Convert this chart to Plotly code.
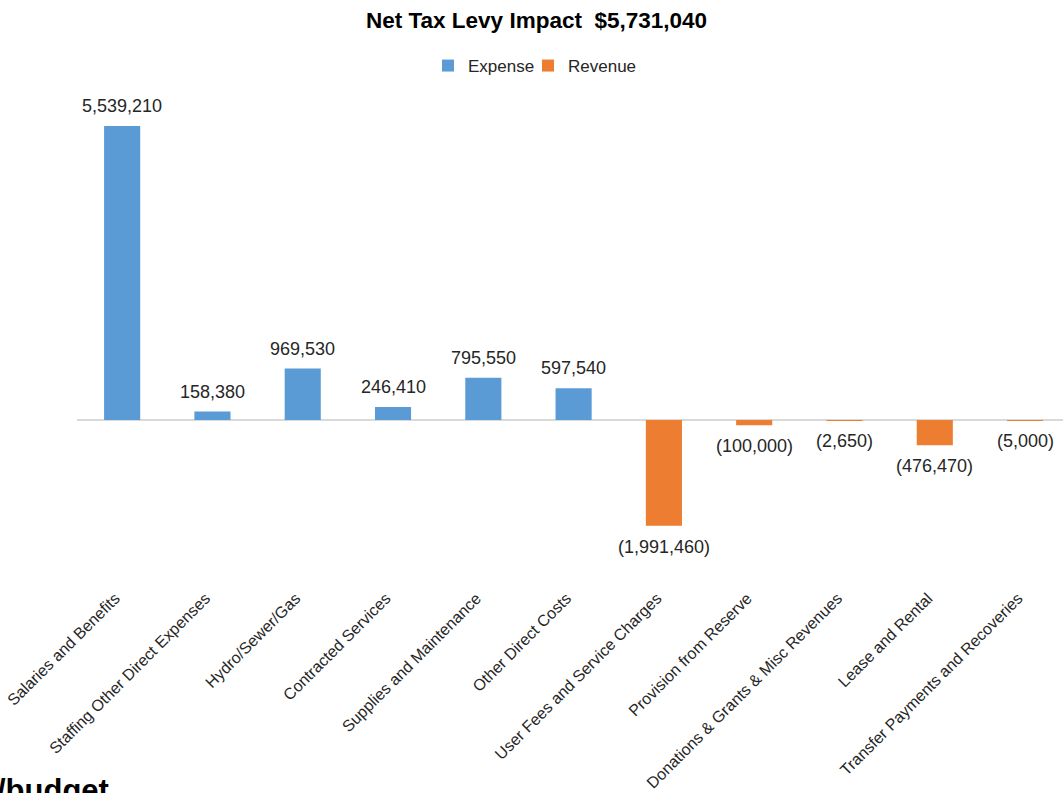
import plotly.graph_objects as go

categories = [
    "Salaries and Benefits",
    "Staffing Other Direct Expenses",
    "Hydro/Sewer/Gas",
    "Contracted Services",
    "Supplies and Maintenance",
    "Other Direct Costs",
    "User Fees and Service Charges",
    "Provision from Reserve",
    "Donations & Grants & Misc Revenues",
    "Lease and Rental",
    "Transfer Payments and Recoveries",
]
expense = [5539210, 158380, 969530, 246410, 795550, 597540, None, None, None, None, None]
revenue = [None, None, None, None, None, None, -1991460, -100000, -2650, -476470, -5000]
net_levy = "$5,731,040"


def fmt(v):
    return f"({abs(v):,})" if v < 0 else f"{v:,}"


OFF = 0  # page body margin removed via post_script
W, H = 1063 - OFF, 793 - OFF
plot_left, plot_right = 77 - OFF, 1063 - OFF
plot_top, plot_bottom = 100 - OFF, 582 - OFF
zero_px = 420 - OFF
px_per_unit = 53.08e-6
y_top = (zero_px - plot_top) / px_per_unit
y_bot = -(plot_bottom - zero_px) / px_per_unit
plot_w = plot_right - plot_left
plot_h = plot_bottom - plot_top

blue = "#5B9BD5"
orange = "#ED7D31"
FONT = "Liberation Sans, Arial, sans-serif"
TXT = "#262626"

fig = go.Figure()
fig.add_trace(go.Bar(x=categories, y=expense, name="Expense", marker_color=blue,
                     width=0.4, marker_line_width=0, legend="legend"))
fig.add_trace(go.Bar(x=categories, y=revenue, name="Revenue", marker_color=orange,
                     width=0.4, marker_line_width=0, legend="legend2"))

annotations = []
for cat, e, r in zip(categories, expense, revenue):
    v = e if e is not None else r
    pos = v >= 0
    annotations.append(dict(
        x=cat, y=v, xref="x", yref="y", text=fmt(v), showarrow=False,
        yanchor="bottom" if pos else "top", yshift=8 if pos else -9,
        font=dict(size=18, color=TXT, family=FONT),
    ))

annotations.append(dict(
    text="<b>/budget</b>", xref="paper", yref="paper",
    x=(-5 - plot_left) / plot_w, xanchor="left",
    y=-(771 - plot_bottom) / plot_h, yanchor="top",
    showarrow=False, font=dict(size=31, color="black", family=FONT),
))


def legend_at(page_text_x):
    left = page_text_x - OFF - 40
    return dict(
        orientation="h", x=(left - plot_left) / plot_w, xanchor="left",
        y=1 + (plot_top - (66 - OFF)) / plot_h, yanchor="middle",
        font=dict(size=17, color=TXT, family=FONT),
        itemwidth=30, bgcolor="rgba(0,0,0,0)",
    )


fig.update_layout(
    width=W, height=H,
    barmode="overlay",
    paper_bgcolor="white", plot_bgcolor="white",
    margin=dict(l=plot_left, r=W - plot_right, t=plot_top, b=H - plot_bottom, pad=0,
                autoexpand=False),
    font=dict(family=FONT, color=TXT),
    title=dict(
        text=f"<b>Net Tax Levy Impact&nbsp;&nbsp;{net_levy}</b>",
        x=536.5 / W, xanchor="center", xref="container",
        y=1 - 20 / H, yanchor="middle", yref="container",
        font=dict(size=22.5, color="black", family=FONT),
    ),
    legend=legend_at(468),
    legend2=legend_at(568),
    showlegend=True,
    xaxis=dict(
        range=[-0.5, 10.42], tickangle=-45, showline=False, ticks="",
        showgrid=False, automargin=False,
        ticklabelshift=-7, ticklabelstandoff=3,
        tickfont=dict(size=16, color=TXT, family=FONT),
    ),
    yaxis=dict(
        range=[y_bot, y_top], visible=True, showticklabels=False, showgrid=False,
        automargin=False,
        zeroline=True, zerolinecolor="#D9D9D9", zerolinewidth=1.5, ticks="",
    ),
    annotations=annotations,
)

fig.write_html(
    "out.html",
    config={"displayModeBar": False},
    post_script="document.body.style.margin='0';document.body.style.overflow='hidden';",
)
